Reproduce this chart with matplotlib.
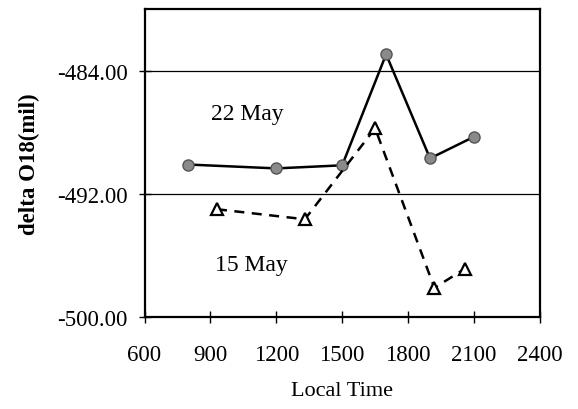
import matplotlib
matplotlib.use("Agg")
import matplotlib.pyplot as plt

# Data

time_22 = [800, 1200, 1500, 1700, 1900, 2100]
delta_22 = [-490.1, -490.35, -490.15, -482.95, -489.7, -488.3]

time_15 = [930, 1330, 1650, 1920, 2060]
delta_15 = [-493.0, -493.65, -487.75, -498.1, -496.85]

x_ticks = [600, 900, 1200, 1500, 1800, 2100, 2400]
y_ticks = [-500, -492, -484]

plt.rcParams['font.family'] = ['Liberation Serif', 'DejaVu Serif']
plt.rcParams['axes.unicode_minus'] = False

fig = plt.figure(figsize=(5.78, 4.10), dpi=100)
ax = fig.add_axes([0.250, 0.224, 0.684, 0.752])

# Grid lines at the y ticks
for yv in y_ticks[1:]:
    ax.axhline(yv, color='black', linewidth=0.9, zorder=1)

ax.plot(time_22, delta_22, color='black', linewidth=1.8, marker='o',
        markersize=8, markerfacecolor='#8a8a8a', markeredgecolor='#555555',
        markeredgewidth=1.0, zorder=3)
ax.plot(time_15, delta_15, color='black', linewidth=1.8, linestyle=(0, (4, 3)),
        marker='^', markersize=8, markerfacecolor='white',
        markeredgecolor='black', markeredgewidth=1.6, zorder=3)

ax.text(1070, -486.8, '22 May', fontsize=17, ha='center', va='center')
ax.text(1085, -496.6, '15 May', fontsize=17, ha='center', va='center')

ax.set_xlim(600, 2400)
ax.set_ylim(-500, -480)
ax.set_xticks(x_ticks)
ax.set_yticks(y_ticks)
ax.set_yticklabels([f'{v:.2f}' for v in y_ticks])
ax.tick_params(direction='inout', length=8, width=1, labelsize=16.5)
ax.tick_params(axis='x', pad=15)
ax.tick_params(axis='y', pad=8)

ax.set_xlabel('Local Time', fontsize=16, labelpad=12)
ax.set_ylabel('delta O18(mil)', fontsize=16.5, fontweight='bold', labelpad=12)

for sp in ax.spines.values():
    sp.set_linewidth(1.6)

fig.savefig('out.png', dpi=100)
